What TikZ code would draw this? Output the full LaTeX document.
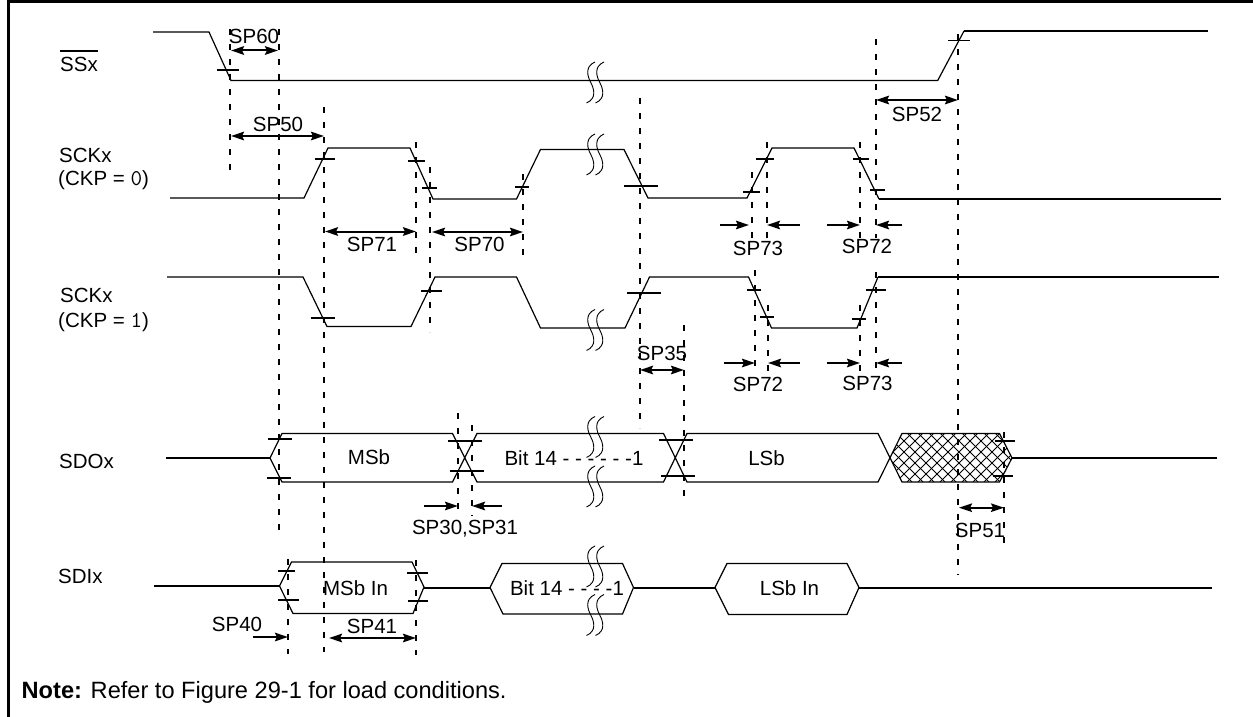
\documentclass[tikz,border=0pt]{standalone}
\usepackage{fontspec}
\setmainfont{Liberation Sans}
\usetikzlibrary{arrows.meta}
\newcommand{\logiclevel}[1]{{\ttfamily\fontsize{22.5}{24}\selectfont #1}}
\tikzset{
    wave/.style={line width=1.2pt, line join=miter},
    wavethick/.style={line width=2pt},
    tickmark/.style={line width=1.5pt},
    guide/.style={line width=2pt, dash pattern=on 6pt off 9pt},
    timearrow/.style={line width=2pt, {Stealth[inset=2pt,length=13pt,width=8.5pt]}-{Stealth[inset=2pt,length=13pt,width=8.5pt]}},
    inarrow/.style={line width=2pt, -{Stealth[inset=2pt,length=13pt,width=8.5pt]}},
    timing/.style={font=\fontsize{20.5}{24}\selectfont, inner sep=0pt},
    signal/.style={timing, anchor=west},
    breakmark/.pic={
        % Two S strokes side by side.
        \foreach \d in {0,9} {
            \draw[line width=0.9pt] (\d+8.5,-20.5) .. controls (\d-2,-16) and (\d+1,-6) .. (\d+4.25,0)
                .. controls (\d+7.5,6) and (\d+10.5,16) .. (\d,20.5);
        }
    }
}
\begin{document}
\begin{tikzpicture}[x=1pt,y=-1pt]
    \useasboundingbox (0,0) rectangle (1253,717);

    % Frame: left and top edges only.
    \draw[line width=2.5pt] (8.5,717) -- (8.5,1.5) -- (1253,1.5);

    % Signal names.
    \node[signal] (ssx) at (60,64) {SSx};
    \draw[line width=2pt] ([yshift=6pt]ssx.north west) -- ([yshift=6pt]ssx.north east);
    \node[signal] (sckzero) at (59,155) {SCKx};
    \node[signal] (ckpzero) at (58,180) {(CKP = \logiclevel{0})};
    \node[signal] (sckone) at (60,295) {SCKx};
    \node[signal] (ckpone) at (58,322) {(CKP = \logiclevel{1})};
    \node[signal] (sdox) at (59,461) {SDOx};
    \node[signal] (sdix) at (58,576) {SDIx};

    % Waveforms.
    \draw[wave] (153,32) -- (209,32) -- (231,80.5) -- (937.7,80.5) -- (964,31);
    \draw[wavethick] (964,31) -- (1208,31);
    \draw[wave] (170,198) -- (304,198) -- (328,148) -- (410,148) -- (433,199) -- (516.5,199)
        -- (540.5,149.5) -- (624,149.5) -- (648,198) -- (747,198) -- (772,148) -- (854,148) -- (879,199);
    \draw[wavethick] (879,199) -- (1221,199);
    \draw[wave] (167,277) -- (303,277) -- (327,326.5) -- (411,326.5) -- (435,277) -- (516.5,277)
        -- (540.5,328) -- (625,328) -- (649.5,277) -- (748.5,277) -- (771.5,328) -- (857,328) -- (878,277);
    \draw[wavethick] (878,277) -- (1219,277);

    % SDOx bus with its crossings.
    \begin{scope}
        \clip (890,458) -- (902,433.5) -- (999.5,433.5) -- (1012,458) -- (999.5,482) -- (902,482) -- cycle;
        \foreach \k in {841,852,...,1012} {
            \draw[line width=0.9pt] (\k,482) -- ++(49,-49);
            \draw[line width=0.9pt] (\k,433) -- ++(49,49);
        }
    \end{scope}
    \draw[wavethick] (166,458) -- (270,458);
    \draw[wave] (270,458) -- (282,433.5) -- (452.5,433.5) -- (477,482) -- (663.5,482) -- (687,433.5)
        -- (878,433.5) -- (902,482) -- (999.5,482) -- (1012,458) -- (999.5,433.5) -- (902,433.5)
        -- (878,482) -- (687,482) -- (663.5,433.5) -- (477,433.5) -- (452.5,482) -- (282,482) -- cycle;
    \draw[wavethick] (1012,458) -- (1217,458);

    % SDIx bus.
    \draw[wavethick] (154,586) -- (279.5,586);
    \draw[wave] (279.5,586) -- (291.5,562) -- (412,562) -- (424,587) -- (413,613.5) -- (293,613.5) -- cycle;
    \draw[wavethick] (424,587.5) -- (490,587.5);
    \draw[wave] (490,587.5) -- (502,563.5) -- (622.5,563.5) -- (633.5,587.5) -- (622.5,614) -- (503,614) -- cycle;
    \draw[wavethick] (633.5,587.5) -- (715,587.5);
    \draw[wave] (715,587.5) -- (727,563.5) -- (847,563.5) -- (859,587.5) -- (847,614.5) -- (728.5,614.5) -- cycle;
    \draw[wavethick] (859,587.5) -- (1212,587.5);

    % Break marks.
    \foreach \y in {82.5,154.5,330,437,486.5,566.5,615} {
        \pic at (586.5,\y) {breakmark};
    }

    % Level marks on the edges.
    \foreach \a/\b/\y in {217/239/70, 948/970/40.7,
        315/335/159, 408/425/161, 422/437/188, 515/529/187, 624/658/186, 743/760/192, 756/774/159, 853/869/159, 870/885/190,
        311/335/318, 421/442/291, 627/661/293, 747/761/290, 760/774/317, 852/866/319, 866/886/290,
        268/292/439, 267/291/478, 448/482/441, 450/484/471, 659/693/440, 661/695/476, 995/1015/441, 993/1013/476,
        278/295/571, 278/299/600, 407/428/573, 408/428/601} {
        \draw[tickmark] (\a,\y) -- (\b,\y);
    }

    % Texts in the buses.
    \node[timing] (msb) at (369,457) {MSb};
    \node[timing] (bitout) at (574,458) {Bit 14 - - - - - -1};
    \node[timing] (lsb) at (766.5,458) {LSb};
    \node[timing] (msbin) at (355.5,588) {MSb In};
    \node[timing] (bitin) at (567,588) {Bit 14 - - - -1};
    \node[timing] (lsbin) at (789.5,588) {LSb In};

    % Timing labels.
    \foreach \n/\t/\x/\y in {spsixty/SP60/254/36, spfifty/SP50/278/124, spseventyone/SP71/372/244,
        spseventy/SP70/479.5/244, sptopseventythree/SP73/758/248, sptopseventytwo/SP72/867/246,
        spfiftytwo/SP52/917/114, spthirtyfive/SP35/662/353, spseventytwo/SP72/758/384,
        spseventythree/SP73/867.5/383, spfiftyone/SP51/980/530, spforty/SP40/237/624, spfortyone/SP41/372/626} {
        \node[timing] (\n) at (\x,\y) {\t};
    }
    \node[timing] (spthirty) at (465,529) {SP30,SP31};

    % Vertical guides.
    \foreach \x/\a/\b in {230/29/177, 279/29/537, 324/107/652, 416/142/260, 430/167/332, 523/174/257,
        640/98/428, 752/172/240, 767/142/240, 860/142/238, 876/39/238,
        755/270/373, 768/305/373, 860/305/373, 876/272/373,
        958/34/575, 1004/432/549, 684/325/501, 458/413/516, 472/425/516,
        288/559/654, 416/560/655} {
        \draw[guide] (\x,\a) -- (\x,\b);
    }

    % Two-headed time arrows.
    \foreach \a/\b/\y in {231/278/50.5, 231/324/136, 325/416/231.5, 432/523/232, 876/958/100,
        640/684/370, 959/1004/507.7, 329/416/638} {
        \draw[timearrow] (\a,\y) -- (\b,\y);
    }

    % Arrows that point at a guide from outside.
    \foreach \a/\b/\y in {720/749/225, 800/767/225, 827/860/225, 902/876/225,
        724/755/363, 800/768/363, 827/860/363, 902/876/363,
        424/458/506, 502/472/506, 253/288/637} {
        \draw[inarrow] (\a,\y) -- (\b,\y);
    }

    \node[timing, anchor=base west, font=\fontsize{23.6}{26}\selectfont] (note) at (21.5,698) {\textbf{Note:} Refer to Figure 29-1 for load conditions.};
\end{tikzpicture}
\end{document}
